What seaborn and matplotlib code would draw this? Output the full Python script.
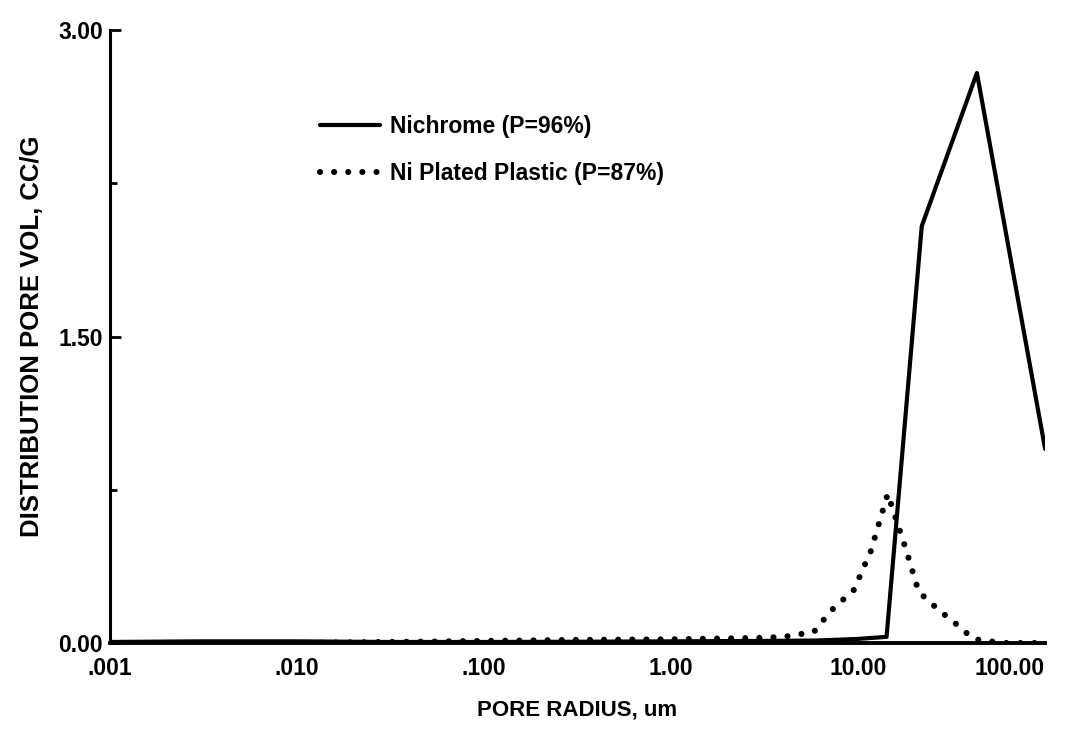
import matplotlib
matplotlib.use("Agg")
import matplotlib.pyplot as plt
from matplotlib.ticker import NullLocator, FixedLocator
import numpy as np
import pandas as pd
import seaborn as sns

# ---- data ----
nichrome_r = [0.001, 0.003, 0.01, 0.03, 0.1, 0.3, 1.0, 3.0, 6.0, 10.0, 14.2, 21.9, 43.2, 100.0]
nichrome_v = [0.005, 0.008, 0.008, 0.005, 0.005, 0.006, 0.008, 0.01, 0.012, 0.02, 0.03, 2.04, 2.79, 0.95]

plastic_r = [0.001, 0.01, 0.03, 0.1, 0.3, 1.0, 3.0, 4.0, 5.8, 7.2, 9.5, 11.7, 14.4,
             18.0, 21.1, 27.1, 35.9, 41.1, 59.0, 100.0]
plastic_v = [0.0, 0.0, 0.005, 0.01, 0.015, 0.018, 0.025, 0.03, 0.054, 0.16, 0.26, 0.45, 0.73,
             0.46, 0.25, 0.16, 0.07, 0.02, 0.0, 0.0]

series_names = ["Nichrome (P=96%)", "Ni Plated Plastic (P=87%)"]

x_ticks = [0.001, 0.01, 0.1, 1.0, 10.0, 100.0]
x_ticklabels = [".001", ".010", ".100", "1.00", "10.00", "100.00"]
y_ticks = [0.0, 1.5, 3.0]
y_ticklabels = ["0.00", "1.50", "3.00"]
y_minor = [0.75, 2.25]

xlabel = "PORE RADIUS, um"
ylabel = "DISTRIBUTION PORE VOL, CC/G"

df1 = pd.DataFrame({"r": nichrome_r, "v": nichrome_v})
df2 = pd.DataFrame({"r": plastic_r, "v": plastic_v})

sns.set_theme(style="white")
plt.rcParams["font.family"] = ["Liberation Sans", "DejaVu Sans"]
plt.rcParams["font.weight"] = "bold"
plt.rcParams["text.color"] = "black"
plt.rcParams["axes.labelcolor"] = "black"
plt.rcParams["xtick.color"] = "black"
plt.rcParams["ytick.color"] = "black"

fig = plt.figure(figsize=(10.73, 7.32), dpi=100)
ax = fig.add_axes([0.1025, 0.1216, 0.8715, 0.8374])

sns.lineplot(data=df1, x="r", y="v", ax=ax, color="black", linewidth=3.0,
             label=series_names[0], sort=False)
sns.lineplot(data=df2, x="r", y="v", ax=ax, color="black", linewidth=4.4,
             linestyle=(0, (0.01, 2.3)), label=series_names[1], sort=False)
for ln in ax.lines[1:]:
    ln.set_dash_capstyle("round")

ax.set_xscale("log")
ax.set_xlim(0.001, 100)
ax.set_ylim(0, 3.0)

ax.xaxis.set_major_locator(FixedLocator(x_ticks))
ax.set_xticklabels(x_ticklabels)
ax.xaxis.set_minor_locator(NullLocator())
ax.set_yticks(y_ticks)
ax.set_yticklabels(y_ticklabels)
ax.yaxis.set_minor_locator(FixedLocator(y_minor))

ax.tick_params(axis="x", length=0, pad=10, labelsize=16.5)
ax.tick_params(axis="y", which="major", direction="in", length=8, width=2, pad=5, labelsize=16.5, left=True)
ax.tick_params(axis="y", which="minor", direction="in", length=5, width=2, left=True)
for lab in ax.get_xticklabels() + ax.get_yticklabels():
    lab.set_fontweight("bold")
xl = ax.get_xticklabels()
xl[-1].set_horizontalalignment("right")
xl[-1].set_x(100)

for s in ["top", "right"]:
    ax.spines[s].set_visible(False)
for s in ["left", "bottom"]:
    ax.spines[s].set_color("black")
ax.spines["left"].set_linewidth(2.2)
ax.spines["bottom"].set_linewidth(2.8)

ax.set_xlabel(xlabel, fontsize=16, fontweight="bold", labelpad=14)
ax.set_ylabel(ylabel, fontsize=18.5, fontweight="bold", labelpad=10)

leg = ax.legend(loc="upper left", bbox_to_anchor=(0.203, 0.895), frameon=False,
                handlelength=2.6, handletextpad=0.45, labelspacing=1.05,
                prop={"family": ["Liberation Sans", "DejaVu Sans"], "weight": "bold", "size": 16.5})

fig.savefig("out.png", dpi=100)
